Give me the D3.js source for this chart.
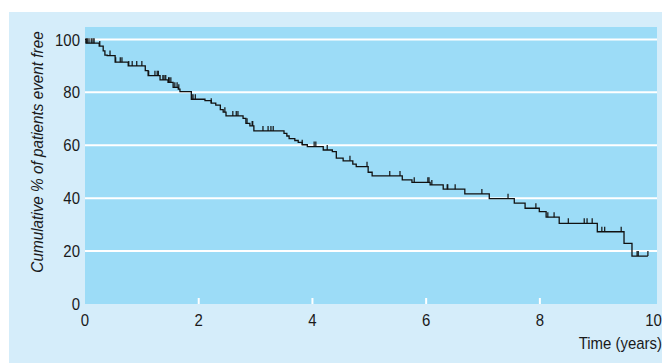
<!DOCTYPE html>
<html>
<head>
<meta charset="utf-8">
<script src="https://cdn.jsdelivr.net/npm/d3@7"></script>
<style>
  body { margin: 0; background: #ffffff; }
  text { font-family: "Liberation Sans", Arial, sans-serif; fill: #1a1a1a; }
</style>
</head>
<body>
<div id="chart"></div>
<script>
// survival curve: time (years) where the curve drops, and the new % event free
var stepTimes = [0.02, 0.25, 0.32, 0.35, 0.39, 0.53, 0.76, 1.06, 1.11, 1.32, 1.46, 1.55, 1.64, 1.67,
                 1.87, 2.11, 2.22, 2.30, 2.38, 2.43, 2.48, 2.78, 2.83, 2.90, 2.97, 3.50, 3.55, 3.59,
                 3.69, 3.75, 3.82, 3.91, 4.19, 4.35, 4.42, 4.54, 4.71, 4.77, 4.98, 5.05, 5.58, 5.75,
                 6.07, 6.30, 6.68, 7.11, 7.55, 7.74, 7.99, 8.11, 8.34, 9.01, 9.48, 9.62];
var stepValues = [98.6, 97.5, 95.7, 94.1, 93.9, 91.4, 90.0, 88.2, 86.3, 84.7, 83.8, 81.9, 81.2, 80.3,
                  77.4, 76.9, 75.9, 75.2, 73.5, 72.5, 71.1, 70.2, 68.3, 67.3, 65.4, 64.5, 63.5, 62.5,
                  61.8, 61.1, 60.2, 59.5, 58.2, 57.6, 55.1, 54.1, 52.9, 51.9, 49.8, 48.4, 46.9, 46.0,
                  45.0, 43.4, 41.6, 39.8, 38.1, 36.2, 34.9, 32.8, 30.5, 27.3, 22.9, 18.1];
var endTime = 9.90;

// censored patients (tick marks on the curve)
var censorTimes = [0.02, 0.04, 0.07, 0.11, 0.14, 0.16, 0.26, 0.44, 0.54, 0.62, 0.65, 0.77, 0.83, 0.91,
                   1.00, 1.12, 1.23, 1.27, 1.29, 1.37, 1.39, 1.42, 1.47, 1.48, 1.51, 1.58, 1.62, 1.65,
                   1.88, 1.90, 1.94, 2.22, 2.46, 2.60, 2.66, 2.69, 2.85, 2.94, 2.95, 3.13, 3.22, 3.27,
                   3.31, 3.82, 4.03, 4.06, 4.26, 4.66, 4.96, 5.36, 5.54, 5.79, 6.03, 6.05, 6.10, 6.37,
                   6.38, 6.51, 6.98, 7.44, 7.93, 8.14, 8.25, 8.50, 8.78, 8.83, 8.92, 9.09, 9.14, 9.43,
                   9.71, 9.73, 9.90];

var xTicks = [0, 2, 4, 6, 8, 10];
var yTicks = [0, 20, 40, 60, 80, 100];

var W = 662, H = 363;
var plot = {left: 85, right: 657, top: 27, bottom: 304};

var svg = d3.select("#chart")
  .append("svg")
    .attr("width", W)
    .attr("height", H);

// outer pale panel and plot area
svg.append("rect")
    .attr("x", 9).attr("y", 12)
    .attr("width", W - 9).attr("height", H - 12)
    .style("fill", "#d5edfa");
svg.append("rect")
    .attr("x", plot.left).attr("y", plot.top)
    .attr("width", plot.right - plot.left).attr("height", plot.bottom - plot.top)
    .style("fill", "#9cdcf7");

var x = d3.scaleLinear()
    .domain([0, 10.06])
    .range([plot.left, plot.right]);
var y = d3.scaleLinear()
    .domain([0, 104.7])
    .range([plot.bottom, plot.top]);

// white gridlines
svg.selectAll(".grid")
  .data(yTicks.filter(function(d) { return d > 0; }))
  .enter().append("line")
    .attr("x1", plot.left).attr("x2", plot.right)
    .attr("y1", function(d) { return y(d); })
    .attr("y2", function(d) { return y(d); })
    .style("stroke", "#ffffff")
    .style("stroke-width", 2);

// small white ticks on the bottom edge
svg.selectAll(".xtick")
  .data(xTicks.filter(function(d) { return d > 0 && d < 10; }))
  .enter().append("line")
    .attr("x1", function(d) { return x(d); })
    .attr("x2", function(d) { return x(d); })
    .attr("y1", plot.bottom).attr("y2", plot.bottom - 6)
    .style("stroke", "#ffffff")
    .style("stroke-width", 2);

// tick labels (condensed look via horizontal squeeze)
svg.selectAll(".ylab")
  .data(yTicks)
  .enter().append("text")
    .attr("transform", function(d) { return "translate(80," + y(d) + ") scale(0.88,1)"; })
    .attr("dy", "0.36em")
    .attr("text-anchor", "end")
    .style("font-size", "17px")
    .text(function(d) { return d; });

svg.selectAll(".xlab")
  .data(xTicks)
  .enter().append("text")
    .attr("transform", function(d) { return "translate(" + x(d) + ",326) scale(0.88,1)"; })
    .attr("text-anchor", "middle")
    .style("font-size", "17px")
    .text(function(d) { return d; });

// axis titles
svg.append("text")
    .attr("transform", "translate(43,152) rotate(-90) scale(0.9,1)")
    .attr("text-anchor", "middle")
    .style("font-size", "17px")
    .style("font-style", "italic")
    .text("Cumulative % of patients event free");

svg.append("text")
    .attr("transform", "translate(662,349) scale(0.88,1)")
    .attr("text-anchor", "end")
    .style("font-size", "17px")
    .text("Time (years)");

// build the step curve from the data
var pts = [[0, 100]];
var cur = 100;
stepTimes.forEach(function(t, i) {
  pts.push([t, cur]);
  cur = stepValues[i];
  pts.push([t, cur]);
});
pts.push([endTime, cur]);

var line = d3.line()
    .x(function(d) { return x(d[0]); })
    .y(function(d) { return y(d[1]); });

svg.append("path")
    .datum(pts)
    .attr("d", line)
    .style("fill", "none")
    .style("stroke", "#111")
    .style("stroke-width", 1.3);

// survival value at a given time
function survAt(t) {
  var v = 100;
  for (var i = 0; i < stepTimes.length; i++) {
    if (stepTimes[i] <= t) v = stepValues[i];
  }
  return v;
}

svg.selectAll(".censor")
  .data(censorTimes)
  .enter().append("line")
    .attr("x1", function(d) { return x(d); })
    .attr("x2", function(d) { return x(d); })
    .attr("y1", function(d) { return y(survAt(d)); })
    .attr("y2", function(d) { return y(survAt(d)) - 5; })
    .style("stroke", "#111")
    .style("stroke-width", 1.2);
</script>
</body>
</html>
